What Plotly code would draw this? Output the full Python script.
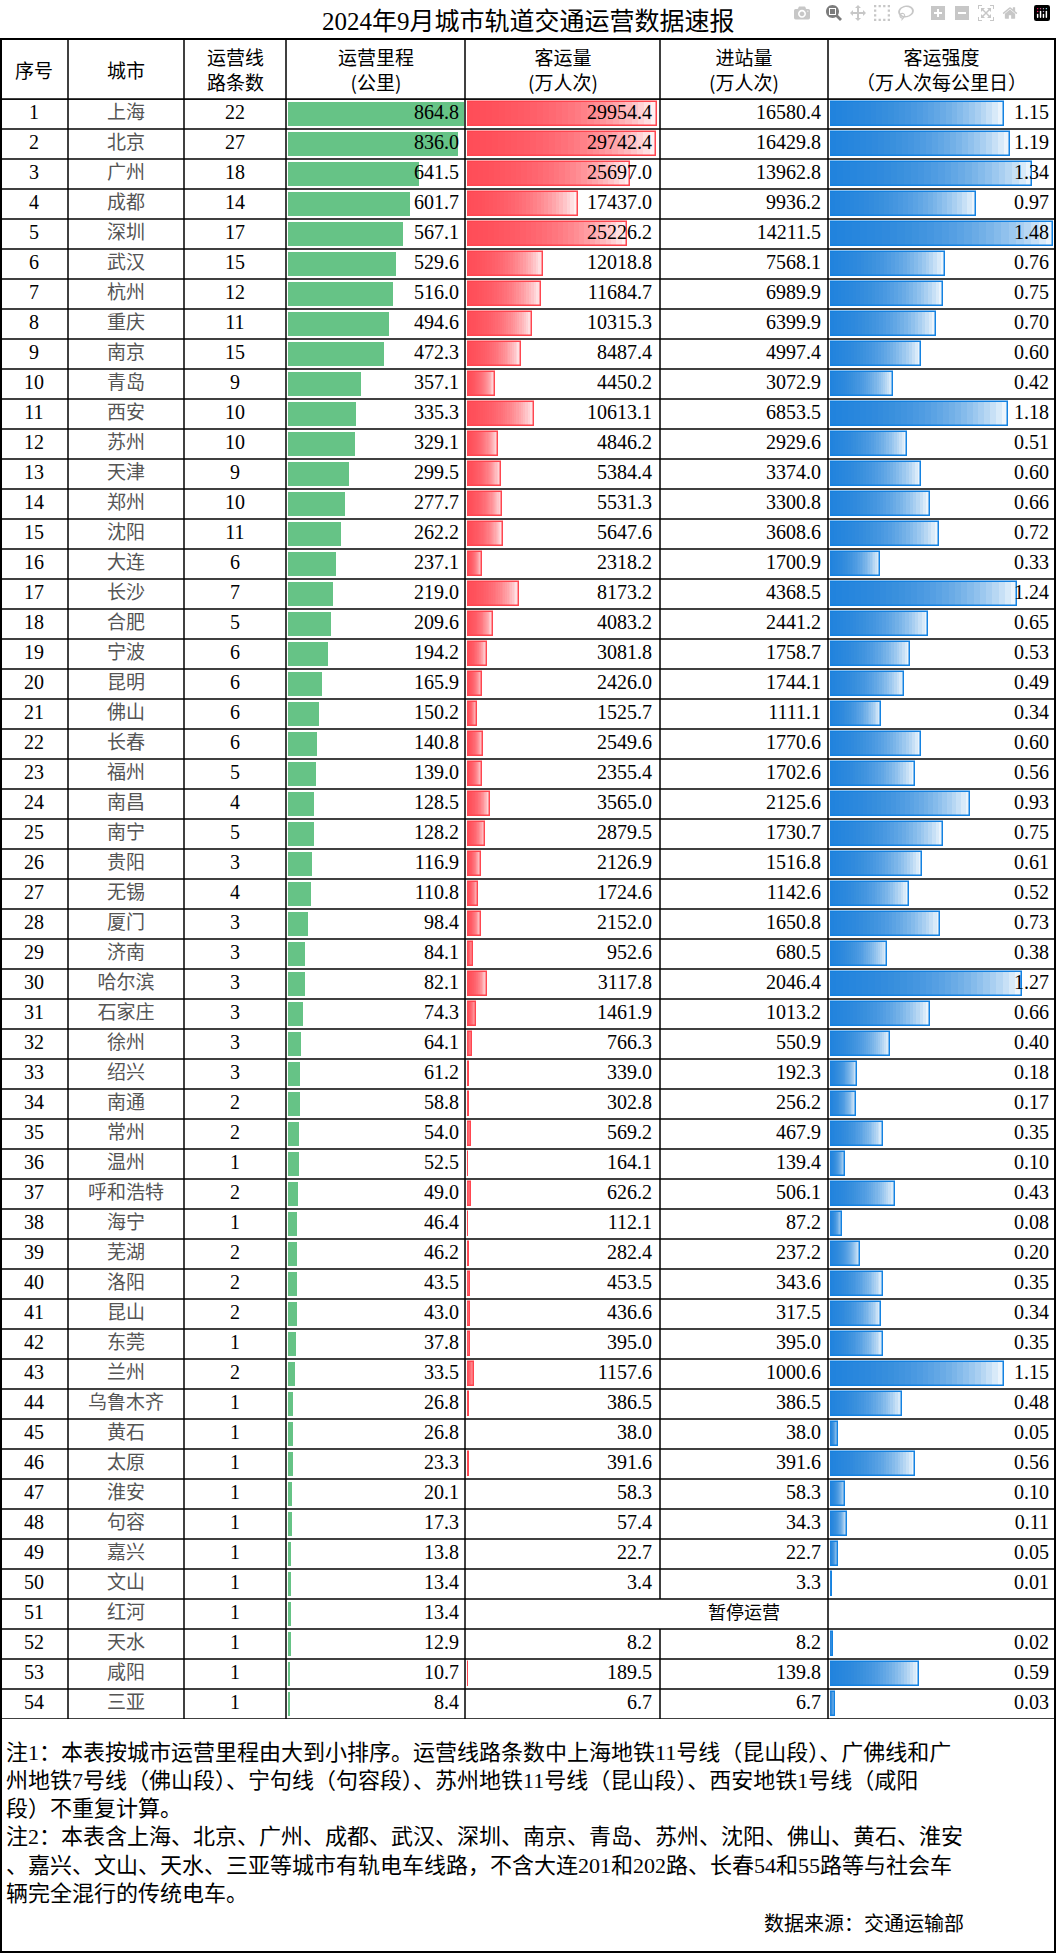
import plotly.graph_objects as go

# ---- data ----
cities = ['上海', '北京', '广州', '成都', '深圳', '武汉', '杭州', '重庆', '南京', '青岛',
          '西安', '苏州', '天津', '郑州', '沈阳', '大连', '长沙', '合肥', '宁波', '昆明',
          '佛山', '长春', '福州', '南昌', '南宁', '贵阳', '无锡', '厦门', '济南', '哈尔滨',
          '石家庄', '徐州', '绍兴', '南通', '常州', '温州', '呼和浩特', '海宁', '芜湖', '洛阳',
          '昆山', '东莞', '兰州', '乌鲁木齐', '黄石', '太原', '淮安', '句容', '嘉兴', '文山',
          '红河', '天水', '咸阳', '三亚']
lines = [22, 27, 18, 14, 17, 15, 12, 11, 15, 9, 10, 10, 9, 10, 11, 6, 7, 5, 6, 6,
         6, 6, 5, 4, 5, 3, 4, 3, 3, 3, 3, 3, 3, 2, 2, 1, 2, 1, 2, 2,
         2, 1, 2, 1, 1, 1, 1, 1, 1, 1, 1, 1, 1, 1]
mileage = [864.8, 836.0, 641.5, 601.7, 567.1, 529.6, 516.0, 494.6, 472.3, 357.1,
           335.3, 329.1, 299.5, 277.7, 262.2, 237.1, 219.0, 209.6, 194.2, 165.9,
           150.2, 140.8, 139.0, 128.5, 128.2, 116.9, 110.8, 98.4, 84.1, 82.1,
           74.3, 64.1, 61.2, 58.8, 54.0, 52.5, 49.0, 46.4, 46.2, 43.5,
           43.0, 37.8, 33.5, 26.8, 26.8, 23.3, 20.1, 17.3, 13.8, 13.4,
           13.4, 12.9, 10.7, 8.4]
passengers = [29954.4, 29742.4, 25697.0, 17437.0, 25226.2, 12018.8, 11684.7, 10315.3, 8487.4, 4450.2,
              10613.1, 4846.2, 5384.4, 5531.3, 5647.6, 2318.2, 8173.2, 4083.2, 3081.8, 2426.0,
              1525.7, 2549.6, 2355.4, 3565.0, 2879.5, 2126.9, 1724.6, 2152.0, 952.6, 3117.8,
              1461.9, 766.3, 339.0, 302.8, 569.2, 164.1, 626.2, 112.1, 282.4, 453.5,
              436.6, 395.0, 1157.6, 386.5, 38.0, 391.6, 58.3, 57.4, 22.7, 3.4,
              None, 8.2, 189.5, 6.7]
entries = [16580.4, 16429.8, 13962.8, 9936.2, 14211.5, 7568.1, 6989.9, 6399.9, 4997.4, 3072.9,
           6853.5, 2929.6, 3374.0, 3300.8, 3608.6, 1700.9, 4368.5, 2441.2, 1758.7, 1744.1,
           1111.1, 1770.6, 1702.6, 2125.6, 1730.7, 1516.8, 1142.6, 1650.8, 680.5, 2046.4,
           1013.2, 550.9, 192.3, 256.2, 467.9, 139.4, 506.1, 87.2, 237.2, 343.6,
           317.5, 395.0, 1000.6, 386.5, 38.0, 391.6, 58.3, 34.3, 22.7, 3.3,
           None, 8.2, 139.8, 6.7]
intensity = [1.15, 1.19, 1.34, 0.97, 1.48, 0.76, 0.75, 0.70, 0.60, 0.42,
             1.18, 0.51, 0.60, 0.66, 0.72, 0.33, 1.24, 0.65, 0.53, 0.49,
             0.34, 0.60, 0.56, 0.93, 0.75, 0.61, 0.52, 0.73, 0.38, 1.27,
             0.66, 0.40, 0.18, 0.17, 0.35, 0.10, 0.43, 0.08, 0.20, 0.35,
             0.34, 0.35, 1.15, 0.48, 0.05, 0.56, 0.10, 0.11, 0.05, 0.01,
             None, 0.02, 0.59, 0.03]
headers = ['序号', '城市', '运营线<br>路条数', '运营里程<br>(公里)', '客运量<br>(万人次)',
           '进站量<br>(万人次)', '客运强度<br>（万人次每公里日）']
notes = ['注1：本表按城市运营里程由大到小排序。运营线路条数中上海地铁11号线（昆山段）、广佛线和广',
         '州地铁7号线（佛山段）、宁句线（句容段）、苏州地铁11号线（昆山段）、西安地铁1号线（咸阳',
         '段）不重复计算。',
         '注2：本表含上海、北京、广州、成都、武汉、深圳、南京、青岛、苏州、沈阳、佛山、黄石、淮安',
         '、嘉兴、文山、天水、三亚等城市有轨电车线路，不含大连201和202路、长春54和55路等与社会车',
         '辆完全混行的传统电车。']

W, H = 1056, 1956
TOP, HEAD, BOT = 39, 99, 1719
cols = [0, 68, 184, 286, 465, 660, 828, 1055]
ranks = list(range(1, len(cities) + 1))
N = len(cities)


def px(x):
    return x / W


def py(y):
    return 1 - y / H


fig = go.Figure()

# mileage bars
fig.add_trace(go.Bar(x=mileage, y=ranks, orientation='h', width=0.8,
                     marker=dict(color='#66C386', line=dict(width=0)),
                     xaxis='x', yaxis='y'))


def gradient_bars(vals, rgb, axis, nl=30):
    # stacked translucent layers give a dark-to-light gradient
    for k in range(nl):
        f = 1 - k / nl
        fig.add_trace(go.Bar(x=[v * f if v is not None else None for v in vals],
                             y=ranks, orientation='h', width=0.8,
                             marker=dict(color='rgba(%d,%d,%d,0.085)' % rgb,
                                         line=dict(width=0)),
                             xaxis=axis, yaxis='y'))
    fig.add_trace(go.Bar(x=vals, y=ranks, orientation='h', width=0.8,
                         marker=dict(color='rgba(0,0,0,0)',
                                     line=dict(width=1.5, color='rgb(%d,%d,%d)' % rgb)),
                         xaxis=axis, yaxis='y'))


gradient_bars(passengers, (255, 70, 80), 'x2')
gradient_bars(intensity, (20, 130, 225), 'x3')

# text columns
num_font = dict(family='Liberation Serif', size=20, color='black')


def text_col(x, texts, pos, font=num_font):
    fig.add_trace(go.Scatter(x=[x] * N, y=ranks, text=texts, mode='text',
                             textposition=pos, textfont=font, cliponaxis=False,
                             xaxis='x4', yaxis='y'))


text_col(34, [str(r) for r in ranks], 'middle center')
text_col(126, cities, 'middle center',
         dict(family='Noto Sans CJK SC', size=19, color='#555'))
text_col(235, [str(v) for v in lines], 'middle center')
text_col(459, ['%.1f' % v for v in mileage], 'middle left')
text_col(652, ['' if v is None else '%.1f' % v for v in passengers], 'middle left')
text_col(821, ['' if v is None else '%.1f' % v for v in entries], 'middle left')
text_col(1049, ['' if v is None else '%.2f' % v for v in intensity], 'middle left')
halted = cities.index('红河') + 1
fig.add_trace(go.Scatter(x=[744], y=[halted], text=['暂停运营'], mode='text',
                         textfont=dict(family='Noto Sans CJK SC', size=18, color='black'),
                         cliponaxis=False, xaxis='x4', yaxis='y'))

ydom = [py(BOT), py(HEAD)]
fig.update_layout(
    width=W, height=H, margin=dict(l=0, r=0, t=0, b=0),
    paper_bgcolor='white', plot_bgcolor='rgba(0,0,0,0)',
    showlegend=False, barmode='overlay', bargap=0,
    yaxis=dict(domain=ydom, range=[N + 0.5, 0.5], visible=False),
    xaxis=dict(domain=[px(288), px(465)], range=[0, 870], visible=False),
    xaxis2=dict(domain=[px(467), px(660)], range=[0, 30400], visible=False),
    xaxis3=dict(domain=[px(830), px(1055)], range=[0, 1.49], visible=False),
    xaxis4=dict(domain=[0, 1], range=[0, W], visible=False),
)

# grid
shapes = []
line_k = dict(color='black', width=1.5)
for k in range(N + 1):
    shapes.append(dict(type='line', xref='paper', yref='y', x0=0, x1=1,
                       y0=k + 0.5, y1=k + 0.5, line=line_k))
for i, c in enumerate(cols[1:-1]):
    if c == 660:
        shapes.append(dict(type='line', xref='x4', yref='y', x0=c, x1=c,
                           y0=0.5, y1=halted - 0.5, line=line_k))
        shapes.append(dict(type='line', xref='x4', yref='y', x0=c, x1=c,
                           y0=halted + 0.5, y1=N + 0.5, line=line_k))
        shapes.append(dict(type='line', xref='paper', yref='paper', x0=px(c), x1=px(c),
                           y0=py(HEAD), y1=py(TOP), line=line_k))
    else:
        shapes.append(dict(type='line', xref='paper', yref='paper', x0=px(c), x1=px(c),
                           y0=py(BOT), y1=py(TOP), line=line_k))
shapes.append(dict(type='rect', xref='paper', yref='paper', x0=px(1), x1=px(1055),
                   y0=py(1952), y1=py(TOP), line=dict(color='black', width=2)))
shapes.append(dict(type='line', xref='paper', yref='paper', x0=0, x1=1,
                   y0=py(HEAD), y1=py(HEAD), line=line_k))
fig.update_layout(shapes=shapes)

ann = [dict(text='2024年9月城市轨道交通运营数据速报', x=0.5, y=py(21), xref='paper',
            yref='paper', showarrow=False, xanchor='center', yanchor='middle',
            font=dict(family='Liberation Serif, Noto Sans CJK SC', size=25, color='black'))]
for i, h in enumerate(headers):
    ann.append(dict(text=h, x=px((cols[i] + cols[i + 1]) / 2), y=py(69), xref='paper',
                    yref='paper', showarrow=False, xanchor='center', yanchor='middle',
                    font=dict(family='Noto Sans CJK SC', size=19, color='black')))
for i, t in enumerate(notes):
    ann.append(dict(text=t, x=px(4), y=py(1752 + 28.3 * i), xref='paper', yref='paper',
                    showarrow=False, xanchor='left', yanchor='middle',
                    font=dict(family='Liberation Serif, Noto Sans CJK SC', size=22,
                              color='black')))
ann.append(dict(text='数据来源：交通运输部', x=px(762), y=py(1922), xref='paper',
                yref='paper', showarrow=False, xanchor='left', yanchor='middle',
                font=dict(family='Noto Sans CJK SC', size=20, color='black')))
fig.update_layout(annotations=ann)

fig.write_html('out.html',
               post_script="document.body.style.margin='0';"
                           "document.body.style.overflow='hidden';")
